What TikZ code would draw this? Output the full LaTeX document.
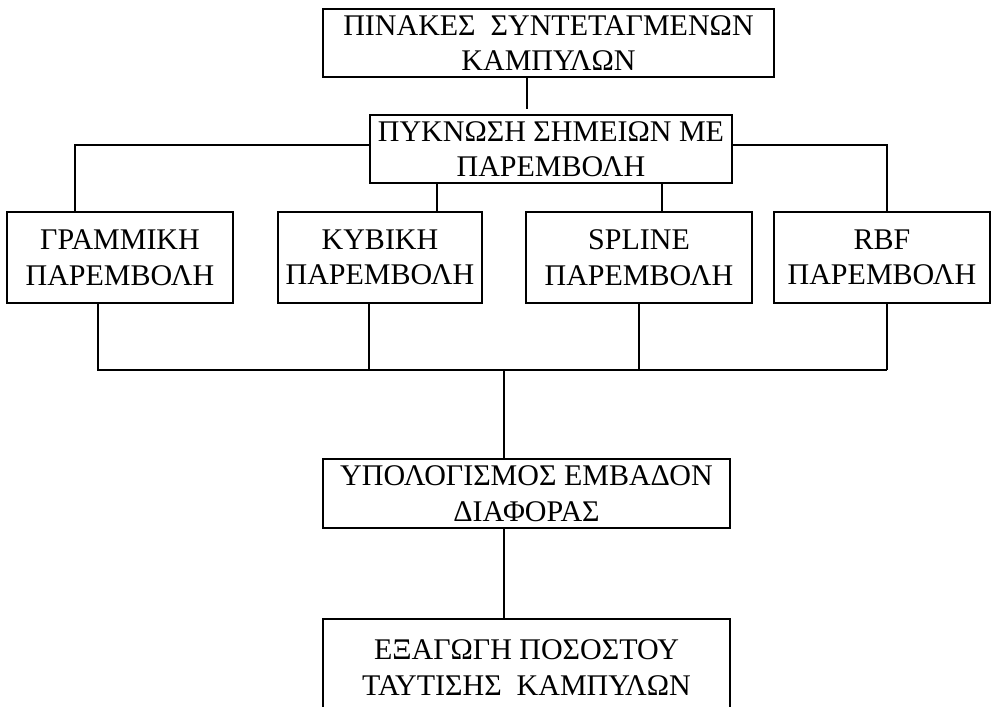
\documentclass[tikz,border=0pt]{standalone}
\usepackage{fontspec}
\setmainfont{Liberation Serif}
\begin{document}
\begin{tikzpicture}[x=1pt,y=-1pt,
  txt/.style={inner sep=0pt,align=center,font=\fontsize{30}{35.5}\selectfont},
  box/.style={txt,draw,line width=1.4pt},
  wire/.style={line width=1.4pt}]
\useasboundingbox (0,0) rectangle (991,707);
\clip (0,0) rectangle (991,707);
\fill[white] (0,0) rectangle (991,707);
% boxes (centre, width, height from reference)
\node[box,minimum width=451pt,minimum height=68pt] (n1) at (548.5,43) {ΠΙΝΑΚΕΣ\ \ ΣΥΝΤΕΤΑΓΜΕΝΩΝ\\ΚΑΜΠΥΛΩΝ};
\node[box,minimum width=362pt,minimum height=68pt] (n2) at (551,149) {ΠΥΚΝΩΣΗ ΣΗΜΕΙΩΝ ΜΕ\\ΠΑΡΕΜΒΟΛΗ};
\node[box,minimum width=226pt,minimum height=91pt] (r1) at (120,257.5) {ΓΡΑΜΜΙΚΗ\\ΠΑΡΕΜΒΟΛΗ};
\node[box,minimum width=204pt,minimum height=91pt] (r2) at (380,257.5) {ΚΥΒΙΚΗ\\ΠΑΡΕΜΒΟΛΗ};
\node[box,minimum width=226pt,minimum height=91pt] (r3) at (639,257.5) {SPLINE\\ΠΑΡΕΜΒΟΛΗ};
\node[box,minimum width=216pt,minimum height=91pt] (r4) at (882,257.5) {RBF\\ΠΑΡΕΜΒΟΛΗ};
\node[box,minimum width=407pt,minimum height=69pt] (n5) at (526.5,493.5) {ΥΠΟΛΟΓΙΣΜΟΣ ΕΜΒΑΔΟΝ\\ΔΙΑΦΟΡΑΣ};
\node[box,minimum width=407pt,minimum height=96pt] (n6) at (526.5,667) {};
\node[txt,anchor=base] (t6) at (526.5,695) {ΕΞΑΓΩΓΗ ΠΟΣΟΣΤΟΥ\\ΤΑΥΤΙΣΗΣ\ \ ΚΑΜΠΥΛΩΝ};
% column coordinates
\coordinate (c1) at (527,0);
\coordinate (cl) at (75,145);
\coordinate (cr) at (887,145);
\coordinate (c2) at (437,0);
\coordinate (c3) at (662,0);
\coordinate (b1) at (98,0);
\coordinate (b2) at (369,0);
\coordinate (b3) at (639,0);
\coordinate (bus) at (0,370);
\coordinate (cm) at (504,0);
% connectors
\draw[wire] (n1.south -| c1) -- ([yshift=5pt]n2.north -| c1);
\draw[wire] (n2.west |- cl) -- (cl) -- (r1.north -| cl);
\draw[wire] (n2.east |- cr) -- (cr) -- (r4.north -| cr);
\draw[wire] (n2.south -| c2) -- (r2.north -| c2);
\draw[wire] (n2.south -| c3) -- (r3.north -| c3);
\draw[wire] (r1.south -| b1) -- (bus -| b1) -- (bus -| cr);
\draw[wire] (r2.south -| b2) -- (bus -| b2);
\draw[wire] (r3.south -| b3) -- (bus -| b3);
\draw[wire] (r4.south -| cr) -- (bus -| cr);
\draw[wire] (bus -| cm) -- (n5.north -| cm);
\draw[wire] (n5.south -| cm) -- (n6.north -| cm);
\end{tikzpicture}
\end{document}
